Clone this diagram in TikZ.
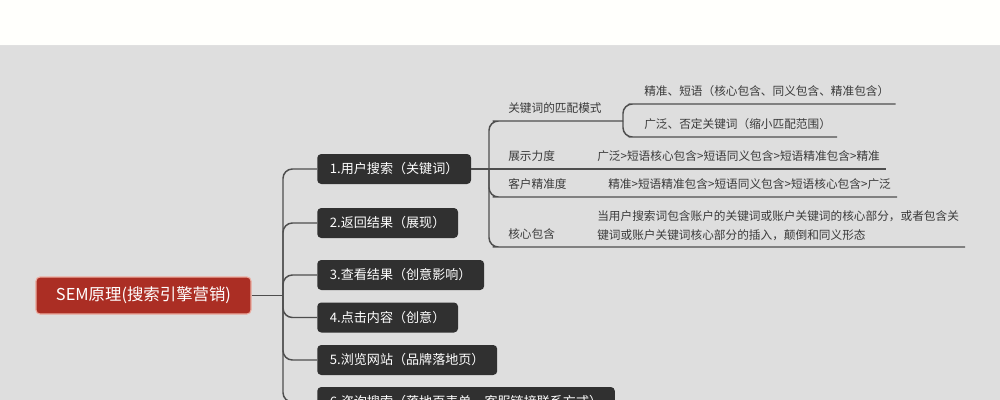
\documentclass[tikz,border=0pt]{standalone}
\usepackage{fontspec}
\setmainfont{Noto Sans CJK SC}
\definecolor{bggray}{RGB}{222,222,222}
\definecolor{rootred}{RGB}{171,46,36}
\definecolor{rootedge}{RGB}{236,172,160}
\definecolor{topicdark}{RGB}{48,48,48}
\definecolor{linegray}{RGB}{78,78,78}
\definecolor{subink}{RGB}{58,58,58}

\begin{document}
\begin{tikzpicture}[x=0.75pt,y=0.75pt,yscale=-1,xscale=1,
  rootbox/.style={draw=rootedge, line width=0.8pt, fill=rootred, text=white, rounded corners=3pt, minimum height=27.75pt, inner xsep=15pt, font=\fontsize{12.3}{14}\selectfont},
  topicbox/.style={anchor=west, fill=topicdark, text=white, rounded corners=3pt, minimum height=22.5pt, inner xsep=9.5pt, font=\fontsize{9.8}{12}\selectfont},
  subfont/.style={anchor=south west, inner xsep=4.5pt, inner ysep=4.5pt, text=subink, font=\fontsize{8.75}{14.25}\selectfont},
  subline/.style={subfont, text height=0.85em, text depth=0.15em},
  link/.style={draw=linegray, line width=1.1pt, rounded corners=7pt}]
%uncomment if require: \path (0,400); %set diagram left start at 0, and has height of 400
\useasboundingbox (0,0) rectangle (1000,400);
\clip (0,0) rectangle (1000,400);

%Shape: Rectangle
\fill[white!99!yellow] (0,0) rectangle (1000,45);
\fill[bggray] (0,45) rectangle (1000,400);
\draw[black!12] (0,45) -- (1000,45);

% Root Node
\node[rootbox] (root) at (143.5,295.5) {SEM原理(搜索引擎营销)};

% Topic Nodes
\node[topicbox] (t1) at (317,169) {1.用户搜索（关键词）};
\node[topicbox] (t2) at (317,223) {2.返回结果（展现）};
\node[topicbox] (t3) at (317,275) {3.查看结果（创意影响）};
\node[topicbox] (t4) at (317,317.5) {4.点击内容（创意）};
\node[topicbox] (t5) at (317,360) {5.浏览网站（品牌落地页）};
\node[topicbox] (t6) at (317,402) {6.咨询搜索（落地页表单、客服链接联系方式）};

%Straight Lines
\coordinate (hub) at (283,295.5);
\draw[link] (root.east) -- (hub);
\foreach \t in {t1,t2,t3,t4,t5,t6}
  \draw[link] (hub) |- (\t.west);

% Text Node
\node[subline] (kw) at (502,121) {关键词的匹配模式};
\node[subline] (show) at (502,169) {展示力度};
\node[subline] (prec) at (502,197) {客户精准度};
\node[subline] (core) at (502,247) {核心包含};

% Text Node
\node[subline] (exact) at (638,104) {精准、短语（核心包含、同义包含、精准包含）};
\node[subline] (broad) at (638,137) {广泛、否定关键词（缩小匹配范围）};
\node[subline] (showv) at (591,169) {广泛>短语核心包含>短语同义包含>短语精准包含>精准};
\node[subline] (precv) at (602,197) {精准>短语精准包含>短语同义包含>短语核心包含>广泛};
\node[subfont, align=left] (corev) at (591,247) {当用户搜索词包含账户的关键词或账户关键词的核心部分，或者包含关\\键词或账户关键词核心部分的插入，颠倒和同义形态};

%Straight Lines
\coordinate (hubA) at (489,169);
\coordinate (hubB) at (623,121);
\draw[link] (t1.east) -- (hubA);
\draw[link] (hubA) |- (kw.south west) -- (hubB);
\draw[link] (hubA) -- (show.south west) -- (showv.south east);
\draw[link] (hubA) |- (prec.south west) -- (precv.south east);
\draw[link] (hubA) |- (core.south west) -- (corev.south east);
\draw[link] (hubB) |- (exact.south west) -- (exact.south east);
\draw[link] (hubB) |- (broad.south west) -- (broad.south east);

\end{tikzpicture}
\end{document}
